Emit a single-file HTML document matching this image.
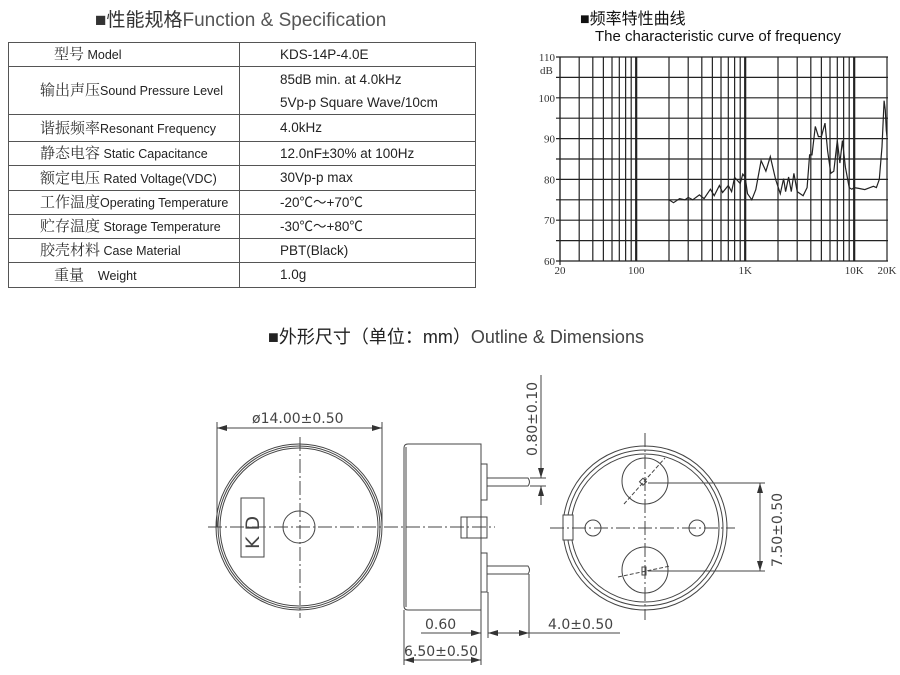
<!DOCTYPE html>
<html><head><meta charset="utf-8"><style>
body{margin:0;width:900px;height:675px;background:#fff;overflow:hidden;position:relative;font-family:"Liberation Sans","Noto Sans CJK SC",sans-serif;color:#222}
.t{position:absolute;white-space:nowrap;line-height:1}
table{position:absolute;left:8px;top:42px;border-collapse:collapse;width:467px;table-layout:fixed}
td{border:1.5px solid #555;padding:0;font-size:13px;line-height:16px;overflow:hidden;white-space:nowrap}
td.l{padding-left:31px;font-size:12.5px}
td.l span{font-family:"Noto Serif CJK SC",serif;font-size:15px;color:#333}
td.r{padding-left:40px;font-size:13.5px}
</style></head><body>
<div class="t" style="left:95px;top:11px;font-size:19px;color:#333">■性能规格<span style="color:#555">Function &amp; Specification</span></div>
<table>
<colgroup><col style="width:231px"><col style="width:236px"></colgroup>
<tr style="height:24px"><td class="l" style="padding-left:45px"><span>型号</span> Model</td><td class="r">KDS-14P-4.0E</td></tr>
<tr style="height:48px"><td class="l"><span>输出声压</span>Sound Pressure Level</td><td class="r" style="line-height:23px">85dB min. at 4.0kHz<br>5Vp-p Square Wave/10cm</td></tr>
<tr style="height:27px"><td class="l"><span>谐振频率</span>Resonant Frequency</td><td class="r">4.0kHz</td></tr>
<tr style="height:24px"><td class="l"><span>静态电容</span> Static Capacitance</td><td class="r">12.0nF±30% at 100Hz</td></tr>
<tr style="height:25px"><td class="l"><span>额定电压</span> Rated Voltage(VDC)</td><td class="r">30Vp-p max</td></tr>
<tr style="height:24px"><td class="l"><span>工作温度</span>Operating Temperature</td><td class="r">-20℃～+70℃</td></tr>
<tr style="height:24px"><td class="l"><span>贮存温度</span> Storage Temperature</td><td class="r">-30℃～+80℃</td></tr>
<tr style="height:24px"><td class="l"><span>胶壳材料</span> Case Material</td><td class="r">PBT(Black)</td></tr>
<tr style="height:25px"><td class="l" style="padding-left:45px"><span>重量</span> &nbsp;&nbsp;&nbsp;Weight</td><td class="r">1.0g</td></tr>
</table>
<div class="t" style="left:580px;top:12px;font-size:16px;color:#111">■频率特性曲线</div>
<div class="t" style="left:595px;top:29px;font-size:15px;color:#111">The characteristic curve of frequency</div>
<svg id="ch" width="900" height="675" style="position:absolute;left:0;top:0" font-family="Liberation Serif,serif" font-size="11" fill="#333"></svg>
<div class="t" style="left:268px;top:328px;font-size:18px;color:#222">■外形尺寸（单位：mm）<span style="color:#444">Outline &amp; Dimensions</span></div>
<svg width="900" height="675" style="position:absolute;left:0;top:0" fill="none" stroke="#444" stroke-width="1">
<defs><marker id="a" markerWidth="10" markerHeight="6" refX="10" refY="3" orient="auto-start-reverse"><path d="M0,0 L10,3 L0,6z" fill="#333" stroke="none"/></marker></defs>
<circle cx="299" cy="527" r="83"/><circle cx="299" cy="527" r="81"/><circle cx="299" cy="527" r="79"/>
<circle cx="299" cy="527" r="16"/>
<rect x="241" y="498" width="23" height="59"/>
<line x1="208" y1="527" x2="495" y2="527" stroke-dasharray="14,3,2,3"/>
<line x1="300" y1="437" x2="300" y2="618" stroke-dasharray="14,3,2,3"/>
<line x1="217" y1="422" x2="217" y2="527"/><line x1="382" y1="422" x2="382" y2="527"/>
<line x1="217" y1="428" x2="382" y2="428" marker-start="url(#a)" marker-end="url(#a)"/>
<path d="M408,444 H481 V610 H408 Q404,610 404,606 V448 Q404,444 408,444z"/>
<line x1="406" y1="447" x2="406" y2="607"/>
<rect x="481" y="464" width="6" height="36"/><rect x="481" y="553" width="6" height="39"/>
<rect x="461" y="517" width="26" height="21"/><line x1="467" y1="517" x2="467" y2="538"/>
<path d="M487,478 H528 Q531,482 528,486 H487"/>
<path d="M487,566 H528 Q531,570 528,574 H487"/>
<line x1="541" y1="375" x2="541" y2="478" marker-end="url(#a)"/>
<line x1="541" y1="505" x2="541" y2="486" marker-end="url(#a)"/>
<line x1="530" y1="478" x2="546" y2="478"/><line x1="530" y1="486" x2="546" y2="486"/>
<line x1="404" y1="610" x2="404" y2="665"/><line x1="481" y1="610" x2="481" y2="665"/>
<line x1="488" y1="592" x2="488" y2="638"/><line x1="529" y1="574" x2="529" y2="638"/>
<line x1="421" y1="633" x2="481" y2="633" marker-end="url(#a)"/>
<line x1="488" y1="633" x2="620" y2="633"/>
<line x1="488" y1="633" x2="529" y2="633" marker-start="url(#a)" marker-end="url(#a)"/>
<line x1="404" y1="660" x2="481" y2="660" marker-start="url(#a)" marker-end="url(#a)"/>
<circle cx="645" cy="528" r="82"/><circle cx="645" cy="528" r="78"/><circle cx="645" cy="528" r="74"/>
<rect x="563" y="515" width="10" height="25" fill="#fff"/>
<circle cx="645" cy="481" r="23"/><circle cx="645" cy="570" r="23"/>
<circle cx="593" cy="528" r="8"/><circle cx="697" cy="528" r="8"/>
<line x1="624" y1="504" x2="665" y2="458" stroke-dasharray="4,2"/>
<line x1="618" y1="577" x2="670" y2="566" stroke-dasharray="4,2"/>
<rect x="641" y="479" width="5" height="5" transform="rotate(45 643 481)"/>
<rect x="642" y="567" width="4" height="8"/>
<line x1="550" y1="528" x2="735" y2="528" stroke-dasharray="14,3,2,3"/>
<line x1="645" y1="433" x2="645" y2="620" stroke-dasharray="14,3,2,3"/>
<line x1="648" y1="483" x2="765" y2="483"/><line x1="648" y1="571" x2="765" y2="571"/>
<line x1="760" y1="483" x2="760" y2="571" marker-start="url(#a)" marker-end="url(#a)"/>
<g fill="#444" stroke="none" font-family="DejaVu Sans,sans-serif" font-size="14">
<text x="252" y="423">ø14.00±0.50</text>
<text x="259" y="549" transform="rotate(-90 259 549)" font-size="19">K D</text>
<text x="537" y="456" transform="rotate(-90 537 456)">0.80±0.10</text>
<text x="425" y="629">0.60</text>
<text x="548" y="629">4.0±0.50</text>
<text x="404" y="656">6.50±0.50</text>
<text x="782" y="567" transform="rotate(-90 782 567)">7.50±0.50</text>
</g>
</svg>
<script>
(function(){
var s=document.getElementById('ch'),h='';
var X=function(f){return 560+(Math.log10(f)-Math.log10(20))*109;};
var Y=function(d){return 261-(d-60)*4.08;};
for(var d=60;d<=110;d+=5){h+='<line x1="556" x2="888" y1="'+Y(d)+'" y2="'+Y(d)+'" stroke="#222" stroke-width="1.2"/>';}
var fs=[20,30,40,50,60,70,80,90,100,200,300,400,500,600,700,800,900,1000,2000,3000,4000,5000,6000,7000,8000,9000,10000,20000];
fs.forEach(function(f){var w=(f==100||f==1000||f==10000)?2.2:1.2;h+='<line y1="57" y2="261" x1="'+X(f)+'" x2="'+X(f)+'" stroke="#222" stroke-width="'+w+'"/>';});
h+='<line x1="560" y1="57" x2="560" y2="265" stroke="#222" stroke-width="1.2"/>';
[60,70,80,90,100,110].forEach(function(d){h+='<text x="555" y="'+(Y(d)+4)+'" text-anchor="end">'+d+'</text>';});
h+='<text x="540" y="74">dB</text>';
[[20,'20'],[100,'100'],[1000,'1K'],[10000,'10K'],[20000,'20K']].forEach(function(p){h+='<text x="'+X(p[0])+'" y="274" text-anchor="middle">'+p[1]+'</text>';});
var c=[[200,75],[220,74.3],[250,75.3],[280,75],[300,75.6],[330,75],[380,76.2],[420,75.3],[480,77.6],[520,76],[580,78.5],[620,76.8],[700,78.5],[750,77],[800,80.5],[900,79],[950,81.3],[1000,80.5],[1050,76.5],[1150,75],[1250,77.5],[1400,84.6],[1550,82],[1700,85.6],[1900,80],[2100,76.5],[2250,80.2],[2350,77],[2500,80.6],[2650,77],[2800,81.5],[3000,77],[3400,76],[3700,78],[3900,86],[4100,86],[4400,93],[4700,90.5],[5000,90.5],[5400,93.8],[5700,87],[6100,81.5],[6500,82],[7000,89.5],[7400,84],[7800,89.5],[8300,83],[9000,78],[9500,77.6],[10000,78],[11000,77.8],[12500,77.5],[14000,78],[15000,78.3],[16000,78],[17000,80],[18000,88],[18800,99.3],[19300,97],[19700,92],[20000,90.5]];
h+='<polyline fill="none" stroke="#222" stroke-width="1.2" points="'+c.map(function(p){return X(p[0]).toFixed(1)+','+Y(p[1]).toFixed(1);}).join(' ')+'"/>';
s.innerHTML=h;
})();
</script>
</body></html>
